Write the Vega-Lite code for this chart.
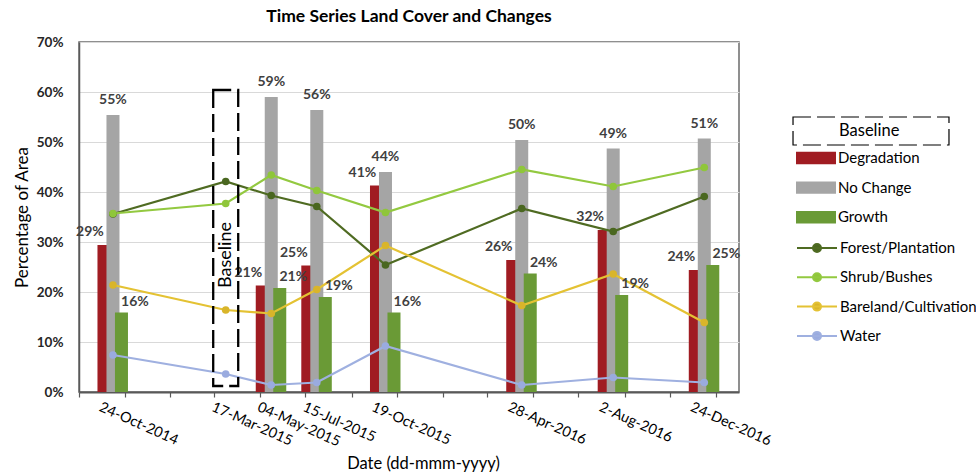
{
  "$schema": "https://vega.github.io/schema/vega-lite/v6.json",
  "width": 660,
  "height": 350,
  "autosize": {"type": "none"},
  "padding": {"left": 79, "top": 42, "right": 237, "bottom": 83},
  "background": "white",
  "title": {"text": "Time Series Land Cover and Changes", "font": "Lato", "fontSize": 17.5, "fontWeight": "bold", "color": "#000000", "offset": 10, "anchor": "middle"},
  "config": {
    "font": "Lato",
    "view": {"stroke": "#6b6b6b", "strokeWidth": 1.5},
    "legend": {"orient": "none", "padding": 0, "labelFont": "Lato", "labelFontSize": 15, "labelColor": "#000000", "title": null}
  },
  "datasets": {
    "bars": [
      {"date": "2014-10-24", "type": "Degradation", "value": 0.294},
      {"date": "2014-10-24", "type": "No Change", "value": 0.554},
      {"date": "2014-10-24", "type": "Growth", "value": 0.159},
      {"date": "2015-05-04", "type": "Degradation", "value": 0.213},
      {"date": "2015-05-04", "type": "No Change", "value": 0.590},
      {"date": "2015-05-04", "type": "Growth", "value": 0.208},
      {"date": "2015-07-15", "type": "Degradation", "value": 0.253},
      {"date": "2015-07-15", "type": "No Change", "value": 0.564},
      {"date": "2015-07-15", "type": "Growth", "value": 0.190},
      {"date": "2015-10-19", "type": "Degradation", "value": 0.413},
      {"date": "2015-10-19", "type": "No Change", "value": 0.440},
      {"date": "2015-10-19", "type": "Growth", "value": 0.159},
      {"date": "2016-04-28", "type": "Degradation", "value": 0.264},
      {"date": "2016-04-28", "type": "No Change", "value": 0.504},
      {"date": "2016-04-28", "type": "Growth", "value": 0.237},
      {"date": "2016-08-02", "type": "Degradation", "value": 0.324},
      {"date": "2016-08-02", "type": "No Change", "value": 0.487},
      {"date": "2016-08-02", "type": "Growth", "value": 0.194},
      {"date": "2016-12-24", "type": "Degradation", "value": 0.244},
      {"date": "2016-12-24", "type": "No Change", "value": 0.507},
      {"date": "2016-12-24", "type": "Growth", "value": 0.254}
    ],
    "lines": [
      {"date": "2014-10-24", "series": "Forest/Plantation", "value": 0.356},
      {"date": "2015-03-17", "series": "Forest/Plantation", "value": 0.421},
      {"date": "2015-05-04", "series": "Forest/Plantation", "value": 0.393},
      {"date": "2015-07-15", "series": "Forest/Plantation", "value": 0.371},
      {"date": "2015-10-19", "series": "Forest/Plantation", "value": 0.254},
      {"date": "2016-04-28", "series": "Forest/Plantation", "value": 0.367},
      {"date": "2016-08-02", "series": "Forest/Plantation", "value": 0.321},
      {"date": "2016-12-24", "series": "Forest/Plantation", "value": 0.391},
      {"date": "2014-10-24", "series": "Shrub/Bushes", "value": 0.357},
      {"date": "2015-03-17", "series": "Shrub/Bushes", "value": 0.377},
      {"date": "2015-05-04", "series": "Shrub/Bushes", "value": 0.434},
      {"date": "2015-07-15", "series": "Shrub/Bushes", "value": 0.403},
      {"date": "2015-10-19", "series": "Shrub/Bushes", "value": 0.359},
      {"date": "2016-04-28", "series": "Shrub/Bushes", "value": 0.445},
      {"date": "2016-08-02", "series": "Shrub/Bushes", "value": 0.411},
      {"date": "2016-12-24", "series": "Shrub/Bushes", "value": 0.449},
      {"date": "2014-10-24", "series": "Bareland/Cultivation", "value": 0.214},
      {"date": "2015-03-17", "series": "Bareland/Cultivation", "value": 0.164},
      {"date": "2015-05-04", "series": "Bareland/Cultivation", "value": 0.157},
      {"date": "2015-07-15", "series": "Bareland/Cultivation", "value": 0.205},
      {"date": "2015-10-19", "series": "Bareland/Cultivation", "value": 0.293},
      {"date": "2016-04-28", "series": "Bareland/Cultivation", "value": 0.173},
      {"date": "2016-08-02", "series": "Bareland/Cultivation", "value": 0.236},
      {"date": "2016-12-24", "series": "Bareland/Cultivation", "value": 0.139},
      {"date": "2014-10-24", "series": "Water", "value": 0.074},
      {"date": "2015-03-17", "series": "Water", "value": 0.036},
      {"date": "2015-05-04", "series": "Water", "value": 0.014},
      {"date": "2015-07-15", "series": "Water", "value": 0.019},
      {"date": "2015-10-19", "series": "Water", "value": 0.092},
      {"date": "2016-04-28", "series": "Water", "value": 0.014},
      {"date": "2016-08-02", "series": "Water", "value": 0.029},
      {"date": "2016-12-24", "series": "Water", "value": 0.019}
    ],
    "dates": [
      {"date": "2014-10-24", "label": "24-Oct-2014"},
      {"date": "2015-03-17", "label": "17-Mar-2015", "event": "Baseline"},
      {"date": "2015-05-04", "label": "04-May-2015"},
      {"date": "2015-07-15", "label": "15-Jul-2015"},
      {"date": "2015-10-19", "label": "19-Oct-2015"},
      {"date": "2016-04-28", "label": "28-Apr-2016"},
      {"date": "2016-08-02", "label": "2-Aug-2016"},
      {"date": "2016-12-24", "label": "24-Dec-2016"}
    ]
  },
  "encoding": {
    "x": {
      "field": "date", "type": "temporal", "timeUnit": "yearmonth", "bandPosition": 0.5,
      "scale": {"domain": [{"year": 2014, "month": 9, "date": 1}, {"year": 2017, "month": 2, "date": 1}]},
      "axis": {
        "title": "Date (dd-mmm-yyyy)", "labels": false, "grid": false,
        "tickCount": {"interval": "month", "step": 2},
        "tickSize": 5, "tickColor": "#595959", "tickWidth": 1.2,
        "domainColor": "#595959", "domainWidth": 2,
        "titleFont": "Lato", "titleFontSize": 16.5, "titleFontWeight": "normal", "titleColor": "#000000",
        "titleX": 344, "titleY": 71, "titleAlign": "center", "titleBaseline": "middle"
      }
    }
  },
  "layer": [
    {
      "data": {"name": "bars"},
      "transform": [{"filter": "datum.type === 'Degradation'"}],
      "mark": {"type": "bar", "width": 13, "xOffset": -9},
      "encoding": {
        "y": {"field": "value", "type": "quantitative",
          "scale": {"domain": [0, 0.7], "nice": false},
          "axis": {"title": "Percentage of Area", "format": ".0%", "values": [0, 0.1, 0.2, 0.3, 0.4, 0.5, 0.6, 0.7],
            "ticks": false, "labelPadding": 16, "labelFont": "Lato", "labelFontSize": 13.5, "labelFontWeight": "bold", "labelColor": "#262626",
            "gridColor": "#d9d9d9", "gridWidth": 1, "domainColor": "#595959", "domainWidth": 1.5,
            "titleFont": "Lato", "titleFontSize": 17, "titleFontWeight": "normal", "titleColor": "#000000", "titlePadding": 5}},
        "fill": {"field": "type", "type": "nominal",
          "scale": {"domain": ["Degradation", "No Change", "Growth"], "range": ["#a01c22", "#a5a5a5", "#6a9a36"]},
          "legend": {"legendX": 727, "legendY": 106, "symbolType": "M-2,-0.62H2V0.62H-2Z", "symbolSize": 400, "symbolStrokeWidth": 0, "labelOffset": 12, "rowPadding": 11.6}}
      }
    },
    {
      "data": {"name": "bars"},
      "transform": [{"filter": "datum.type === 'No Change'"}],
      "mark": {"type": "bar", "width": 13, "xOffset": 0},
      "encoding": {
        "y": {"field": "value", "type": "quantitative"},
        "fill": {"field": "type", "type": "nominal",
          "scale": {"domain": ["Degradation", "No Change", "Growth"], "range": ["#a01c22", "#a5a5a5", "#6a9a36"]},
          "legend": {"legendX": 727, "legendY": 106, "symbolType": "M-2,-0.62H2V0.62H-2Z", "symbolSize": 400, "symbolStrokeWidth": 0, "labelOffset": 12, "rowPadding": 11.6}}
      }
    },
    {
      "data": {"name": "bars"},
      "transform": [{"filter": "datum.type === 'Growth'"}],
      "mark": {"type": "bar", "width": 13, "xOffset": 8.5},
      "encoding": {
        "y": {"field": "value", "type": "quantitative"},
        "fill": {"field": "type", "type": "nominal",
          "scale": {"domain": ["Degradation", "No Change", "Growth"], "range": ["#a01c22", "#a5a5a5", "#6a9a36"]},
          "legend": {"legendX": 727, "legendY": 106, "symbolType": "M-2,-0.62H2V0.62H-2Z", "symbolSize": 400, "symbolStrokeWidth": 0, "labelOffset": 12, "rowPadding": 11.6}}
      }
    },
    {
      "data": {"name": "lines"},
      "mark": {"type": "line", "strokeWidth": 2.2},
      "encoding": {
        "y": {"field": "value", "type": "quantitative"},
        "stroke": {"field": "series", "type": "nominal",
          "scale": {"domain": ["Forest/Plantation", "Shrub/Bushes", "Bareland/Cultivation", "Water"], "range": ["#4f6b22", "#93c940", "#e4c233", "#9fb0e0"]},
          "legend": {"legendX": 727, "legendY": 195, "symbolType": "M-2,0H2M0.4,0A0.4,0.4,0,1,1,-0.4,0A0.4,0.4,0,1,1,0.4,0Z", "symbolSize": 400, "symbolStrokeWidth": 2, "labelOffset": 12, "rowPadding": 10.3,
            "encode": {"symbols": {"update": {"fill": {"scale": "stroke", "field": "value"}}}}}}
      }
    },
    {
      "data": {"name": "lines"},
      "mark": {"type": "point", "filled": true, "size": 58, "opacity": 1},
      "encoding": {
        "y": {"field": "value", "type": "quantitative"},
        "color": {"field": "series", "type": "nominal",
          "scale": {"domain": ["Forest/Plantation", "Shrub/Bushes", "Bareland/Cultivation", "Water"], "range": ["#4a6720", "#8fc63a", "#d9b52a", "#9aabdf"]},
          "legend": null}
      }
    },
    {
      "data": {"name": "bars"},
      "transform": [{"filter": "datum.type === 'Degradation'"}],
      "mark": {"type": "text", "font": "Lato", "fontSize": 14, "fontWeight": "bold", "color": "#404040", "dx": -23, "dy": -13, "baseline": "middle"},
      "encoding": {
        "y": {"field": "value", "type": "quantitative"},
        "text": {"field": "value", "type": "quantitative", "format": ".0%"}
      }
    },
    {
      "data": {"name": "bars"},
      "transform": [{"filter": "datum.type === 'No Change'"}],
      "mark": {"type": "text", "font": "Lato", "fontSize": 14, "fontWeight": "bold", "color": "#404040", "dx": 0, "dy": -15, "baseline": "middle"},
      "encoding": {
        "y": {"field": "value", "type": "quantitative"},
        "text": {"field": "value", "type": "quantitative", "format": ".0%"}
      }
    },
    {
      "data": {"name": "bars"},
      "transform": [{"filter": "datum.type === 'Growth'"}],
      "mark": {"type": "text", "font": "Lato", "fontSize": 14, "fontWeight": "bold", "color": "#404040", "dx": 22, "dy": -11, "baseline": "middle"},
      "encoding": {
        "y": {"field": "value", "type": "quantitative"},
        "text": {"field": "value", "type": "quantitative", "format": ".0%"}
      }
    },
    {
      "data": {"name": "dates"},
      "transform": [{"filter": "datum.event === 'Baseline'"}],
      "mark": {"type": "bar", "width": 25, "fill": "transparent", "stroke": "#000000", "strokeWidth": 2.3},
      "encoding": {
        "y": {"datum": 0.604, "type": "quantitative"},
        "y2": {"datum": 0.012},
        "strokeDash": {"field": "event", "type": "nominal",
          "scale": {"domain": ["Baseline"], "range": [[18, 6]]},
          "legend": {"legendX": 777, "legendY": 74, "symbolType": "M-5.57,-1H5.57V1H-5.57Z", "symbolSize": 784, "symbolStrokeWidth": 1.2, "labelOffset": -47, "labelFontSize": 16.5,
            "encode": {"symbols": {"update": {"fill": {"value": "white"}, "stroke": {"value": "#555555"}, "strokeDash": {"value": [5, 3]}}}}}}
      }
    },
    {
      "data": {"name": "dates"},
      "transform": [{"filter": "datum.event === 'Baseline'"}],
      "mark": {"type": "text", "font": "Lato", "fontSize": 18, "color": "#000000", "angle": 270, "align": "center", "baseline": "middle"},
      "encoding": {
        "y": {"datum": 0.274, "type": "quantitative"},
        "text": {"field": "event"}
      }
    },
    {
      "data": {"name": "dates"},
      "mark": {"type": "text", "font": "Lato", "fontSize": 14.5, "color": "#000000", "angle": 24, "align": "left", "baseline": "top", "dx": -6, "dy": 12},
      "encoding": {
        "y": {"datum": 0, "type": "quantitative"},
        "text": {"field": "label"}
      }
    }
  ]
}
